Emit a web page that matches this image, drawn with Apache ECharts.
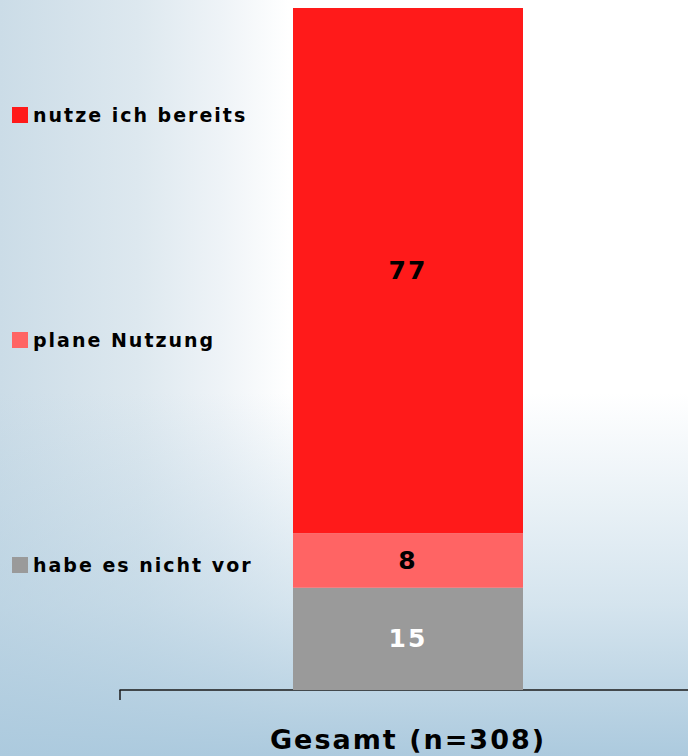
<!DOCTYPE html>
<html>
<head>
<meta charset="utf-8">
<script src="https://cdn.jsdelivr.net/npm/echarts@6/dist/echarts.min.js"></script>
<style>
  html, body { margin: 0; padding: 0; overflow: hidden; width: 688px; height: 756px; }
  #wrap {
    width: 688px; height: 756px; overflow: hidden;
    background:
      linear-gradient(to bottom, rgba(178,206,224,0) 0%, rgba(178,206,224,0) 52%, rgba(178,206,224,0.55) 80%, rgba(172,202,222,1) 100%),
      linear-gradient(to right, #cbdce7 0%, #dde8ef 20%, #eef3f7 32%, #ffffff 42%, #ffffff 100%);
  }
  #chart { width: 696px; height: 756px; }
  #chart text { letter-spacing: 2px; }
</style>
</head>
<body>
<div id="wrap"><div id="chart"></div></div>
<script>
const categories = ['Gesamt (n=308)'];
const legendOrder = ['nutze ich bereits', 'plane Nutzung', 'habe es nicht vor'];
const seriesNames = ['habe es nicht vor', 'plane Nutzung', 'nutze ich bereits'];
const seriesValues = [[15], [8], [77]];
const seriesColors = ['#9a9a9a', '#ff6464', '#ff1a1a'];
const labelColors = ['#ffffff', '#000000', '#000000'];

const chart = echarts.init(document.getElementById('chart'), null, { renderer: 'svg' });
const FONT = '"DejaVu Sans", Verdana, sans-serif';

chart.setOption({
  animation: false,
  backgroundColor: 'transparent',
  legend: {
    orient: 'vertical',
    left: 7,
    top: 100,
    itemWidth: 16,
    itemHeight: 16,
    itemGap: 205,
    icon: 'rect',
    data: legendOrder,
    textStyle: { fontFamily: FONT, fontSize: 19, fontWeight: 'bold', color: '#000', lineHeight: 20 }
  },
  grid: { left: 120, right: 0, top: 8, bottom: 66, containLabel: false },
  xAxis: {
    type: 'category',
    data: categories,
    axisLine: { show: true, lineStyle: { color: '#1a1a1a', width: 1.5 } },
    axisTick: { show: true, length: 10, lineStyle: { color: '#1a1a1a', width: 1.5 } },
    axisLabel: { margin: 36, fontFamily: FONT, fontSize: 27, fontWeight: 'bold', color: '#000' }
  },
  yAxis: { type: 'value', min: 0, max: 100, show: false, splitLine: { show: false } },
  series: seriesNames.map((name, i) => ({
    name,
    type: 'bar',
    stack: 'total',
    barWidth: 230,
    data: seriesValues[i],
    itemStyle: { color: seriesColors[i] },
    label: {
      show: true,
      position: 'inside',
      color: labelColors[i],
      fontFamily: FONT,
      fontSize: 25,
      fontWeight: 'bold'
    }
  }))
});
</script>
</body>
</html>
